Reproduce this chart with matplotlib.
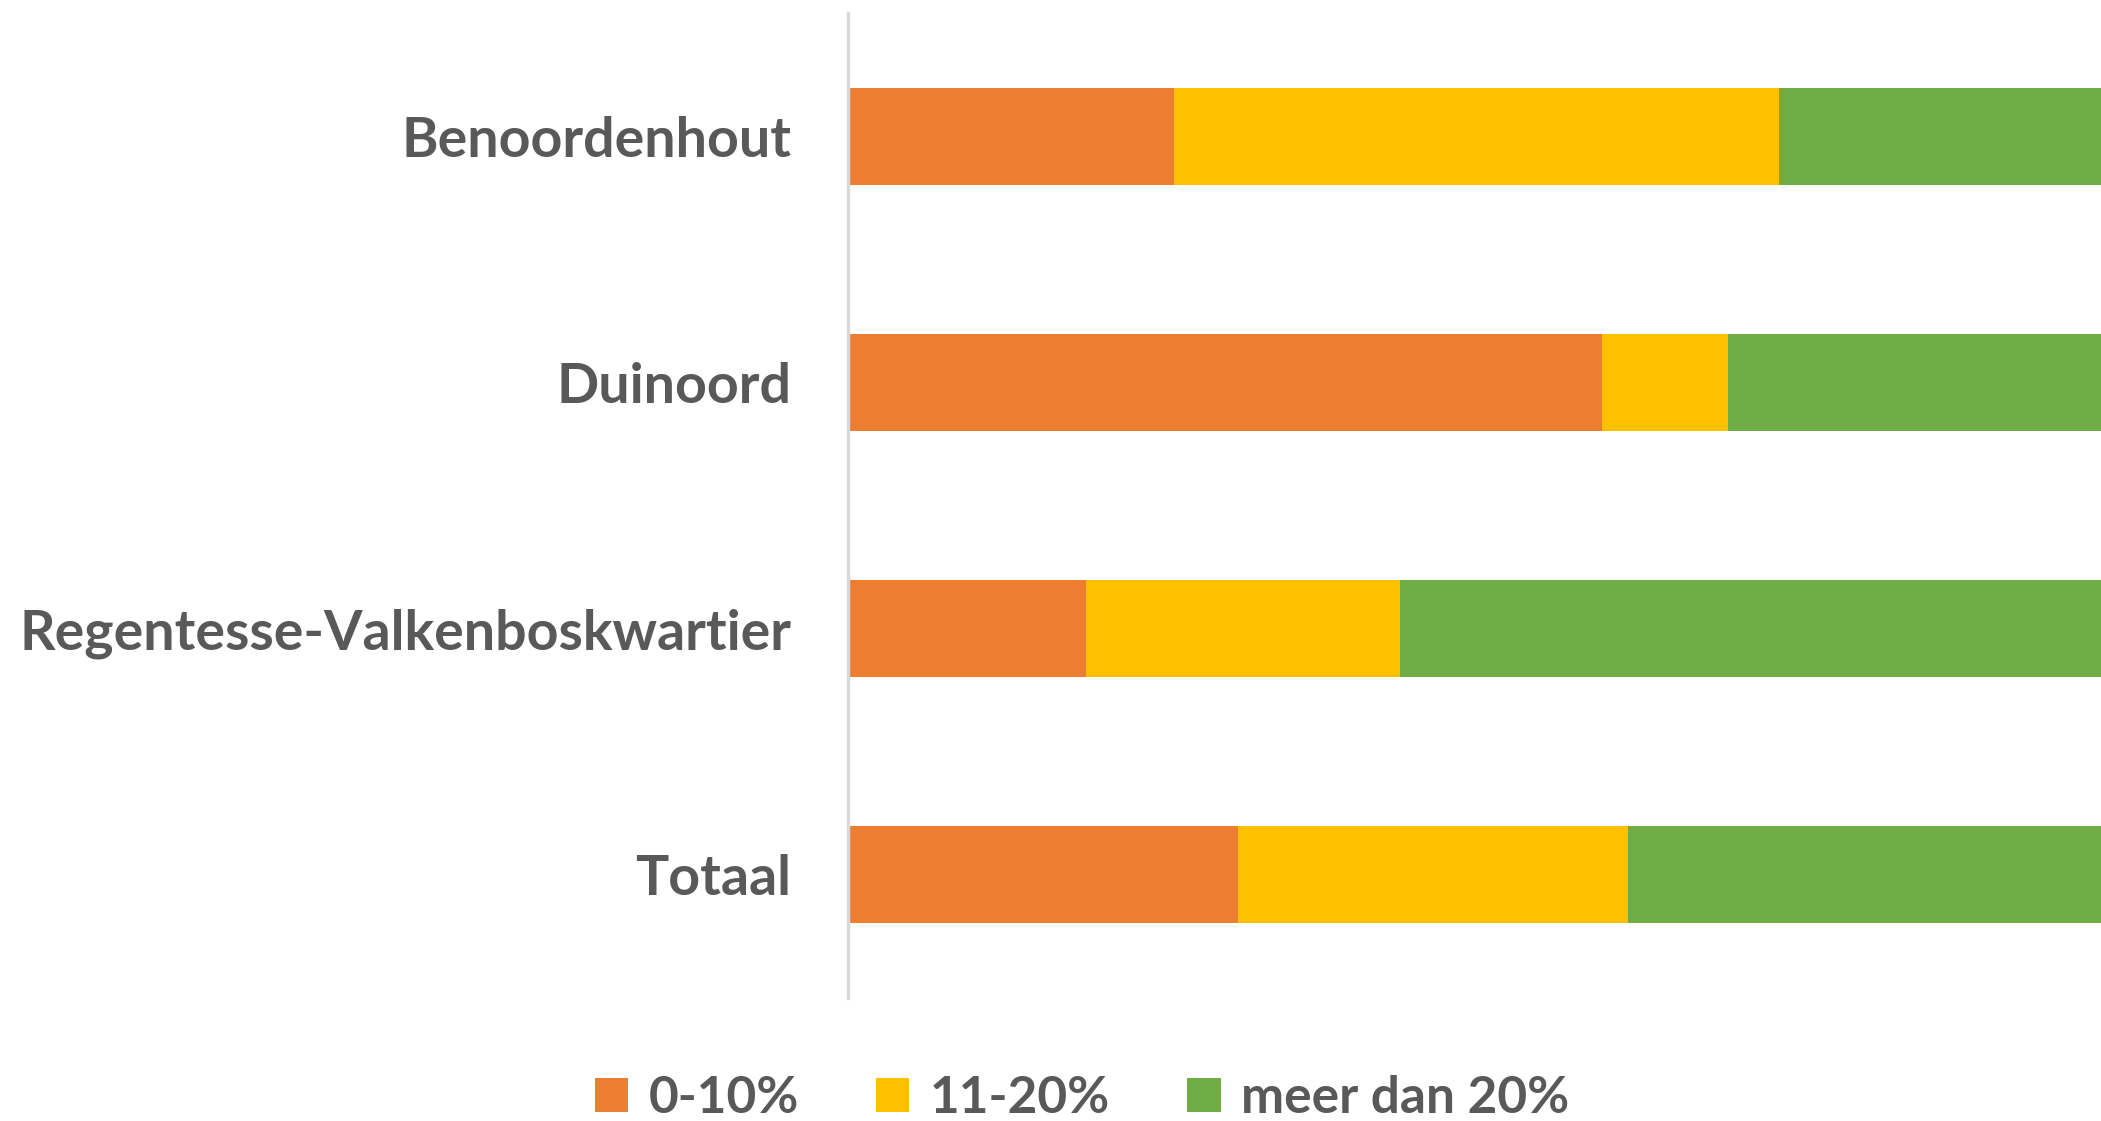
import numpy as np
import matplotlib.pyplot as plt

# wijken en percentages (grafiek is rechts afgesneden)
wijken = ['Benoordenhout', 'Duinoord', 'Regentesse-Valkenboskwartier', 'Totaal']
laag = [17.4, 40.2, 12.7, 20.8]     # 0-10%
midden = [32.2, 6.7, 16.7, 20.8]    # 11-20%
hoog = [50.4, 53.1, 70.6, 58.4]     # meer dan 20%
reeksen = ['0-10%', '11-20%', 'meer dan 20%']
kleuren = ['#ED7D31', '#FFC000', '#70AD47']

plt.rcParams['font.family'] = ['Lato', 'DejaVu Sans']

fig = plt.figure(figsize=(21.01, 11.21), dpi=100)
# de as loopt verder dan de rechterrand van het plaatje
ax = fig.add_axes([0.4036, 0.110, 0.893, 0.878])

y = np.arange(len(wijken))
links = np.zeros(len(wijken))
for waarden, naam, kleur in zip([laag, midden, hoog], reeksen, kleuren):
    ax.barh(y, waarden, left=links, height=0.395, color=kleur, label=naam)
    links += np.array(waarden)

ax.set_xlim(0, 100)
ax.set_ylim(len(wijken) - 0.5, -0.5)
ax.set_yticks(y)
ax.set_yticklabels(wijken, fontsize=40, fontweight='bold', color='#595959')
ax.tick_params(axis='y', length=0, pad=41)
ax.set_xticks([])
for kant in ['top', 'right', 'bottom']:
    ax.spines[kant].set_visible(False)
ax.spines['left'].set_color('#d9d9d9')
ax.spines['left'].set_linewidth(2.5)

fig.legend(loc='center', bbox_to_anchor=(0.515, 0.02), ncol=3, frameon=False,
           prop={'size': 37, 'weight': 'bold'}, labelcolor='#595959',
           handlelength=0.65, handleheight=0.65, handletextpad=0.4, columnspacing=1.5)

fig.savefig('out.png', dpi=100)
